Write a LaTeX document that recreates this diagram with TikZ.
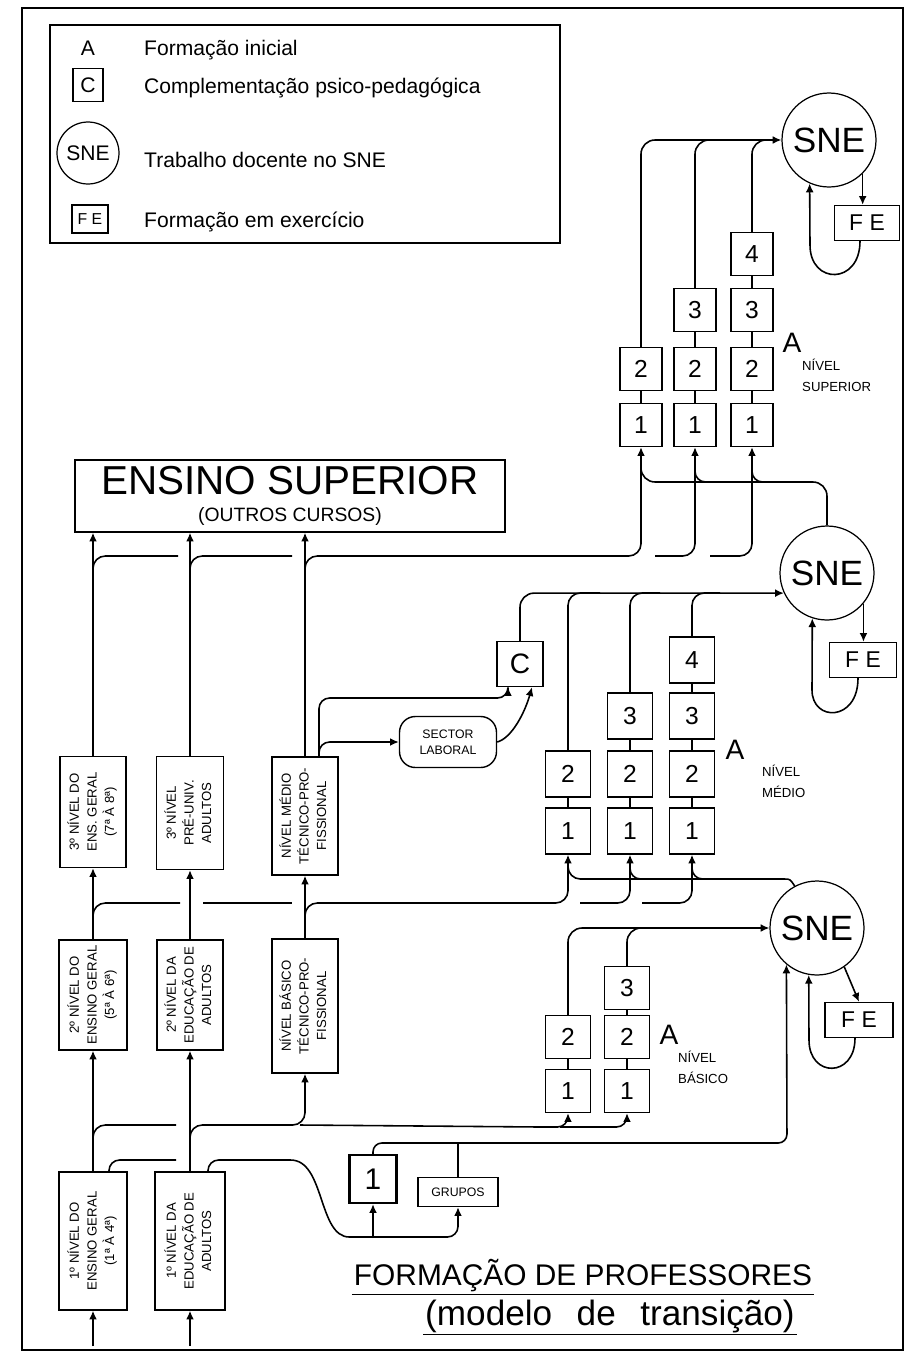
\documentclass[tikz,border=0pt]{standalone}
\usepackage{graphicx}
\usepackage{fontspec}
\setmainfont{Liberation Sans}
\usetikzlibrary{arrows.meta, calc}

\newcommand{\fsz}[1]{\fontsize{#1}{#1}\selectfont}
\newcommand{\uptext}[1]{\rotatebox{90}{\begin{tabular}{@{}c@{}}#1\end{tabular}}}

\tikzset{
  frame/.style={rectangle, draw, line width=1.1pt},
  lvlbox/.style={
    rectangle, draw, line width=0.8pt, inner sep=1pt,
    font=\fontsize{7.5}{10}\selectfont
  },
  unit/.style={
    rectangle, draw, line width=0.8pt, minimum width=0.88cm, minimum height=0.88cm,
    inner sep=0pt, font=\fsz{14}
  },
  sne/.style={
    circle, draw, line width=0.7pt, minimum size=1.88cm, inner sep=0pt,
    font=\fsz{20}
  },
  fe/.style={
    rectangle, draw, line width=0.8pt, minimum width=1.34cm, minimum height=0.7cm,
    inner sep=0pt, font=\fsz{13}
  },
  atag/.style={font=\fsz{16}},
  ntag/.style={anchor=west, align=left, font=\fontsize{7.5}{12}\selectfont},
  legtext/.style={anchor=west, font=\fsz{12}},
  link/.style={line width=0.9pt},
  arr/.style={-{Latex[length=5pt,width=4.5pt]}, line width=0.9pt}
}

\begin{document}
\begin{tikzpicture}[x=0.02cm, y=-0.02cm]
  \useasboundingbox (0,0) rectangle (906,1356);
  \node[frame, minimum width=17.62cm, minimum height=26.84cm] (frame) at (462.5,679) {};

  % legend
  \node[draw, line width=0.8pt, minimum width=10.2cm, minimum height=4.36cm] (legend) at (305,134) {};
  \node[font=\fsz{12}] (legA) at (88,48) {A};
  \node[unit, minimum width=0.6cm, minimum height=0.66cm, font=\fsz{12}] (legC) at (88,85) {C};
  \node[sne, minimum size=1.24cm, font=\fsz{12}] (legS) at (88,153) {SNE};
  \node[fe, minimum width=0.72cm, minimum height=0.56cm, font=\fsz{9}] (legF) at (90,219) {F E};
  \node[legtext] (legtA) at (138,50) {Formação inicial};
  \node[legtext] (legtC) at (138,88) {Complementação psico-pedagógica};
  \node[legtext] (legtS) at (138,160) {Trabalho docente no SNE};
  \node[legtext] (legtF) at (138,222) {Formação em exercício};

  % ensino superior
  \node[draw, line width=0.8pt, minimum width=8.6cm, minimum height=1.44cm, inner sep=2pt, align=center] (es) at (290,496)
    {{\fsz{23}ENSINO SUPERIOR}\\[3pt]{\fsz{11}(OUTROS CURSOS)}};

  % levels of the system
  \node[lvlbox, minimum width=1.36cm, minimum height=2.76cm] (g1) at (93,1241)
    {\uptext{1º NÍVEL DO\\ENSINO GERAL\\(1ª À 4ª)}};
  \node[lvlbox, minimum width=1.4cm, minimum height=2.76cm] (a1) at (190,1241)
    {\uptext{1º NÍVEL DA\\EDUCAÇÃO DE\\ADULTOS}};
  \node[lvlbox, minimum width=1.36cm, minimum height=2.2cm] (g2) at (93,995)
    {\uptext{2º NÍVEL DO\\ENSINO GERAL\\(5ª À 6ª)}};
  \node[lvlbox, minimum width=1.32cm, minimum height=2.2cm] (a2) at (190,995)
    {\uptext{2º NÍVEL DA\\EDUCAÇÃO DE\\ADULTOS}};
  \node[lvlbox, minimum width=1.32cm, minimum height=2.68cm] (tb) at (305,1006)
    {\uptext{NÍVEL BÁSICO\\TÉCNICO-PRO-\\FISSIONAL}};
  \node[lvlbox, minimum width=1.32cm, minimum height=2.22cm] (g3) at (93,812)
    {\uptext{3º NÍVEL DO\\ENS. GERAL\\(7ª À 8ª)}};
  \node[lvlbox, minimum width=1.34cm, minimum height=2.26cm] (pu) at (190,813)
    {\uptext{3º NÍVEL\\PRÉ-UNIV.\\ADULTOS}};
  \node[lvlbox, minimum width=1.32cm, minimum height=2.36cm] (tm) at (305,816)
    {\uptext{NÍVEL MÉDIO\\TÉCNICO-PRO-\\FISSIONAL}};

  % nivel superior
  \node[unit, minimum width=0.84cm, minimum height=0.86cm] (su11) at (641,425) {1};
  \node[unit, minimum width=0.84cm, minimum height=0.86cm] (su12) at (641,369) {2};
  \node[unit, minimum width=0.84cm, minimum height=0.86cm] (su21) at (695,425) {1};
  \node[unit, minimum width=0.84cm, minimum height=0.86cm] (su22) at (695,369) {2};
  \node[unit, minimum width=0.84cm, minimum height=0.86cm] (su23) at (695,310) {3};
  \node[unit, minimum width=0.84cm, minimum height=0.86cm] (su31) at (752,425) {1};
  \node[unit, minimum width=0.84cm, minimum height=0.86cm] (su32) at (752,369) {2};
  \node[unit, minimum width=0.84cm, minimum height=0.86cm] (su33) at (752,310) {3};
  \node[unit, minimum width=0.84cm, minimum height=0.86cm] (su34) at (752,254) {4};
  \node[atag] (aS) at (792,343) {A};
  \node[ntag] (nS) at (796,375) {NÍVEL\\SUPERIOR};

  % nivel medio
  \node[unit, minimum width=0.9cm, minimum height=0.92cm] (me11) at (568,831) {1};
  \node[unit, minimum width=0.9cm, minimum height=0.92cm] (me12) at (568,774) {2};
  \node[unit, minimum width=0.9cm, minimum height=0.92cm] (me21) at (630,831) {1};
  \node[unit, minimum width=0.9cm, minimum height=0.92cm] (me22) at (630,774) {2};
  \node[unit, minimum width=0.9cm, minimum height=0.92cm] (me23) at (630,716) {3};
  \node[unit, minimum width=0.9cm, minimum height=0.92cm] (me31) at (692,831) {1};
  \node[unit, minimum width=0.9cm, minimum height=0.92cm] (me32) at (692,774) {2};
  \node[unit, minimum width=0.9cm, minimum height=0.92cm] (me33) at (692,716) {3};
  \node[unit, minimum width=0.9cm, minimum height=0.92cm] (me34) at (692,660) {4};
  \node[atag] (aM) at (735,750) {A};
  \node[ntag] (nM) at (756,781) {NÍVEL\\MÉDIO};

  % nivel basico
  \node[unit, minimum width=0.9cm, minimum height=0.86cm] (ba11) at (568,1091) {1};
  \node[unit, minimum width=0.9cm, minimum height=0.86cm] (ba12) at (568,1037) {2};
  \node[unit, minimum width=0.9cm, minimum height=0.86cm] (ba21) at (627,1091) {1};
  \node[unit, minimum width=0.9cm, minimum height=0.86cm] (ba22) at (627,1037) {2};
  \node[unit, minimum width=0.9cm, minimum height=0.86cm] (ba23) at (627,988) {3};
  \node[atag] (aB) at (669,1035) {A};
  \node[ntag] (nB) at (672,1067) {NÍVEL\\BÁSICO};

  \foreach \p/\q in {su11/su12, su21/su22, su22/su23, su31/su32, su32/su33, su33/su34,
                     me11/me12, me21/me22, me22/me23, me31/me32, me32/me33, me33/me34,
                     ba11/ba12, ba21/ba22, ba22/ba23}
    \draw[line width=0.7pt] (\p) -- (\q);

  % other boxes
  \node[unit, minimum width=0.92cm, minimum height=0.9cm, font=\fsz{16}] (cpp) at (520,664) {C};
  \node[draw, line width=0.8pt, rounded corners=9pt, minimum width=1.94cm, minimum height=1.02cm,
        align=center, font=\fontsize{7}{9}\selectfont] (lab) at (448,742) {SECTOR\\LABORAL};
  \node[unit, line width=1.3pt, minimum width=0.94cm, minimum height=0.96cm, font=\fsz{17}] (ini) at (373,1179) {1};
  \node[draw, line width=0.8pt, minimum width=1.6cm, minimum height=0.58cm, font=\fsz{7}] (grp) at (458,1192) {GRUPOS};

  % SNE and FE
  \node[sne] (sne1) at (829,140) {SNE};
  \node[sne] (sne2) at (827,573) {SNE};
  \node[sne] (sne3) at (817,928) {SNE};
  \node[fe, minimum width=1.3cm] (fe1) at (867,223) {F E};
  \node[fe] (fe2) at (863,660) {F E};
  \node[fe, minimum width=1.36cm] (fe3) at (859,1020) {F E};

  % title
  \node[font=\fsz{17}, inner sep=1pt] (ttl) at (583,1276) {FORMAÇÃO DE PROFESSORES};
  \node[font=\fsz{20}, inner sep=1pt] (sub) at (610,1316) {(modelo\hspace{0.7em}de\hspace{0.7em}transição)};
  \draw[line width=0.9pt] (ttl.south west) -- (ttl.south east);
  \draw[line width=0.9pt] (sub.south west) -- (sub.south east);

  % entries and level to level
  \coordinate (in1) at (93,1346);
  \coordinate (in2) at (190,1346);
  \draw[arr] (in1) -- (g1.south);
  \draw[arr] (in2) -- (a1.south);
  \draw[arr] (g1) -- (g2);
  \draw[arr] (a1) -- (a2);
  \draw[arr] (g2) -- (g3);
  \draw[arr] (a2) -- (pu);
  \draw[arr] (tb) -- (tm);
  \draw[arr] (g3.north) -- (g3.north |- es.south);
  \draw[arr] (pu.north) -- (pu.north |- es.south);
  \draw[arr] (tm.north) -- (tm.north |- es.south);

  % from 1st level
  \draw[link, rounded corners=7pt] ($(g1.north)+(0,-24)$) |- (176,1125);
  \draw[arr, rounded corners=7pt] ($(a1.north)+(0,-30)$) |- (305,1125) -- (tb.south);
  \draw[link] (300,1125) -- (540,1127);
  \draw[arr, rounded corners=6pt] (540,1127) -| (ba11.south);
  \draw[arr, rounded corners=6pt] (560,1127) -| (ba21.south);
  \draw[link, rounded corners=6pt] ($(g1.north)+(16,0)$) |- (176,1160);
  \draw[arr, rounded corners=6pt] ($(a1.north)+(18,0)$) |- (280,1160)
    .. controls (325,1160) and (318,1237) .. (360,1237) -- (458,1237) -- (grp.south);
  \draw[arr] ($(ini.south)+(0,34)$) -- (ini.south);
  \draw[arr, rounded corners=5pt] (ini.north) |- (787,1143) -- (sne3.-130);
  \draw[link] (grp.north) -- (458,1143);

  % from 2nd level
  \draw[link, rounded corners=7pt] ($(g2.north)+(0,-16)$) |- (180,903);
  \draw[link] (203,903) -- (292,903);
  \draw[arr, rounded corners=7pt] ($(tb.north)+(0,-16)$) |- (568,903) -- (me11.south);
  \draw[arr, rounded corners=7pt] (580,903) -| (me21.south);
  \draw[arr, rounded corners=7pt] (642,903) -| (me31.south);
  \draw[link, rounded corners=7pt] (sne3.118) .. controls (790,879) .. (772,879) -- (568,879) -- (568,866);
  \draw[link, rounded corners=6pt] (630,866) |- (645,879);
  \draw[link, rounded corners=6pt] (692,866) |- (707,879);

  % from 3rd level
  \draw[link, rounded corners=7pt] ($(g3.north |- es.south)+(0,43)$) |- (178,556);
  \draw[link, rounded corners=7pt] ($(pu.north |- es.south)+(0,40)$) |- (292,556);
  \draw[arr, rounded corners=7pt] ($(tm.north |- es.south)+(0,40)$) |- (641,556) -- (su11.south);
  \draw[arr, rounded corners=7pt] (655,556) -| (su21.south);
  \draw[arr, rounded corners=7pt] (710,556) -| (su31.south);
  \draw[link, rounded corners=8pt] (sne2.north) |- (641,482) -- (641,462);
  \draw[link, rounded corners=6pt] (695,465) |- (710,482);
  \draw[link, rounded corners=6pt] (752,465) |- (767,482);

  % medio tecnico to C and sector laboral
  \draw[arr, rounded corners=6pt] ($(tm.north)+(14,0)$) |- (508,698) -- ([xshift=-0.24cm]cpp.south);
  \draw[arr, rounded corners=6pt] ($(tm.north)+(14,0)$) |- (lab.west);
  \draw[arr] (lab.east) .. controls (512,738) and (525,712) .. ([xshift=0.24cm]cpp.south);

  % into the SNE
  \draw[arr, rounded corners=8pt] (su12.north) |- (sne1.west);
  \draw[link, rounded corners=8pt] (su23.north) |- (720,140);
  \draw[link, rounded corners=8pt] (su34.north) |- (778,140);
  \draw[arr, rounded corners=8pt] (cpp.north) |- (sne2.205);
  \draw[link, rounded corners=7pt] (me12.north) |- (600,593);
  \draw[link, rounded corners=7pt] (me23.north) |- (660,593);
  \draw[link, rounded corners=7pt] (me34.north) |- (720,593);
  \draw[arr, rounded corners=8pt] (ba12.north) |- (sne3.west);
  \draw[link, rounded corners=8pt] (ba23.north) |- (655,928);

  % formacao em exercicio
  \draw[arr] (sne1.-45) -- (sne1.-45 |- fe1.north);
  \draw[arr] ([xshift=-0.14cm]fe1.south) .. controls (860,285) and (810,285) .. (810,245) -- (sne1.-114);
  \draw[arr] (sne2.-40) -- (sne2.-40 |- fe2.north);
  \draw[arr] ([xshift=-0.1cm]fe2.south) .. controls (858,722) and (812,722) .. (812,690) -- (sne2.-108);
  \draw[arr] (sne3.-55) -- (fe3.north);
  \draw[arr] ([xshift=-0.08cm]fe3.south) .. controls (855,1078) and (809,1078) .. (809,1040) -- (sne3.-100);
\end{tikzpicture}
\end{document}
